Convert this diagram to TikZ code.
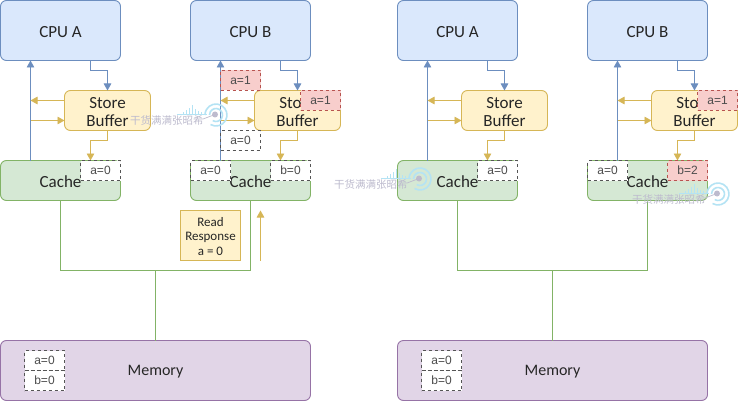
\documentclass[tikz,border=0pt]{standalone}
\usepackage{fontspec}
\setmainfont{Liberation Sans}
\newfontfamily\handfont{Carlito}
\newfontfamily\cjkfont{Noto Sans CJK SC}
\usetikzlibrary{arrows.meta,calc}
\definecolor{bluefill}{HTML}{DAE8FC}\definecolor{blueline}{HTML}{6C8EBF}
\definecolor{yellowfill}{HTML}{FFF2CC}\definecolor{yellowline}{HTML}{D6B656}
\definecolor{greenfill}{HTML}{D5E8D4}\definecolor{greenline}{HTML}{82B366}
\definecolor{purplefill}{HTML}{E1D5E7}\definecolor{purpleline}{HTML}{9673A6}
\definecolor{redfill}{HTML}{F8CECC}\definecolor{redline}{HTML}{B85450}
\definecolor{dashline}{HTML}{555555}
\definecolor{markcyan}{HTML}{B4E3F4}\definecolor{marktext}{HTML}{BDBBCE}
\tikzset{
  x=1pt,y=-1pt,
  every node/.style={inner sep=0pt,outer sep=0pt,align=center,text=black!85},
  boxtext/.style={font=\handfont\fontsize{17}{18.5}\selectfont,align=center,yshift=-1.5pt},
  txt/.style={label={[boxtext]center:#1}},
  boxbase/.style={draw,rounded corners=6pt,line width=.9pt},
  cpu/.style={boxbase,fill=bluefill,draw=blueline,minimum width=120pt,minimum height=60pt},
  storebox/.style={boxbase,fill=yellowfill,draw=yellowline,minimum width=86pt,minimum height=40pt},
  cachebox/.style={boxbase,fill=greenfill,draw=greenline,minimum width=120pt,minimum height=40pt},
  membox/.style={boxbase,fill=purplefill,draw=purpleline,minimum width=310pt,minimum height=60pt},
  cell/.style={draw=dashline,dash pattern=on 3pt off 3pt,line width=.7pt,fill=white,minimum width=40pt,minimum height=20pt,font=\fontsize{12}{14}\selectfont,text=black!70},
  redcell/.style={cell,fill=redfill,draw=redline},
  blueflow/.style={draw=blueline,line width=.9pt,-{Triangle[width=7.5pt,length=7pt]}},
  yellowflow/.style={draw=yellowline,line width=.9pt,-{Triangle[width=7.5pt,length=7pt]}},
  busline/.style={draw=greenline,line width=.9pt},
  wmtext/.style={text=marktext,font=\cjkfont\fontsize{10.5}{12}\selectfont},
}
% faint stamp: signal bars, rings and caption
\newcommand{\stamp}[3]{%
  \begin{scope}[shift={(#1,#2)}]
    \draw[markcyan,line width=1.6pt] (86,-6) ++(-120:11pt) arc[start angle=-120,end angle=180,radius=11pt];
    \draw[markcyan,line width=1.6pt] (86,-6) ++(-120:6.5pt) arc[start angle=-120,end angle=180,radius=6.5pt];
    \fill[marktext] (85,-6.5) circle (3pt);
    \draw[marktext,line width=.7pt] (85,-6.5) -- (73,-2);
    \draw[markcyan,line width=.8pt] (47,-7) -- (77,-7);
    \foreach \xx/\hh in {53/2,56/4,59/6,62/9,65/5,68/3,71/2} \draw[markcyan,line width=.8pt] (\xx,-7) -- (\xx,-7-\hh);
    \node[wmtext,anchor=west] (#3) at (0,0) {干货满满张昭希};
  \end{scope}}
\begin{document}
\begin{tikzpicture}
\useasboundingbox (0,0) rectangle (738,401);
\fill[white] (0,0) rectangle (738,401);
\foreach \off/\pre in {0/l,397/r}{
\begin{scope}[shift={(\off,0)}]
  % processors, store buffers and caches
  \node[cpu,txt={CPU A}] (\pre cpua) at (60.5,30.5) {};
  \node[cpu,txt={CPU B}] (\pre cpub) at (250.5,30.5) {};
  \node[storebox,txt={Store\\Buffer}] (\pre sa) at (107.5,110.5) {};
  \node[storebox,txt={Store\\Buffer}] (\pre sb) at (297.5,110.5) {};
  \node[cachebox,txt={Cache}] (\pre ca) at (60.5,180.5) {};
  \node[cachebox,txt={Cache}] (\pre cb) at (250.5,180.5) {};
  \node[membox,label={[boxtext,font=\handfont\fontsize{16}{18}\selectfont]center:Memory}] (\pre mem) at (155.5,370.5) {};
  \node[cell] (\pre ma) at (44.5,360.5) {a=0};
  \node[cell] (\pre mb) at (44.5,380.5) {b=0};
  % junctions beside the caches and the bus
  \coordinate (\pre ja) at (30.5,160.5);
  \coordinate (\pre jat) at (30.5,60.5);
  \coordinate (\pre jb) at (220.5,160.5);
  \coordinate (\pre jbt) at (220.5,60.5);
  \coordinate (\pre la1) at (30.5,100.5);
  \coordinate (\pre la2) at (30.5,120.5);
  \coordinate (\pre lb1) at (220.5,100.5);
  \coordinate (\pre lb2) at (220.5,120.5);
  \coordinate (\pre bus) at (155.5,270.5);
  \draw[blueflow] (\pre ja) -- (\pre jat);
  \draw[blueflow] (\pre jb) -- (\pre jbt);
  \draw[blueflow] (90.5,60.5) |- (107.5,70.5) -- (\pre sa.north);
  \draw[blueflow] (280.5,60.5) |- (297.5,70.5) -- (\pre sb.north);
  \draw[yellowflow] (64.5,100.5) -- (\pre la1);
  \draw[yellowflow] (\pre la2) -- (64.5,120.5);
  \draw[yellowflow] (254.5,100.5) -- (\pre lb1);
  \draw[yellowflow] (\pre lb2) -- (254.5,120.5);
  \draw[yellowflow] (\pre sa.south) |- (90.5,140.5) -- (90.5,160.5);
  \draw[yellowflow] (\pre sb.south) |- (280.5,140.5) -- (280.5,160.5);
  \draw[busline] (\pre ca.south) |- (\pre bus) -| (\pre cb.south);
  \draw[busline] (\pre bus) -- (\pre mem.north);
  \node[cell] (\pre cella) at (100.5,170.5) {a=0};
  \node[cell] (\pre cellb) at (210.5,170.5) {a=0};
  \node[redcell] (\pre storea) at (320.5,100.5) {a=1};
\end{scope}}
% per-side differences in cache contents
\node[cell] (lcellc) at (290.5,170.5) {b=0};
\node[redcell] (rcellc) at (687.5,170.5) {b=2};
% invalidated copies and the read response on the first panel
\node[redcell] (invnew) at (240.5,80.5) {a=1};
\node[cell] (invold) at (240.5,140.5) {a=0};
\node[draw=yellowline,fill=yellowfill,line width=.9pt,minimum width=60pt,minimum height=50pt,label={[boxtext,yshift=.5pt,font=\handfont\fontsize{13}{14.5}\selectfont]center:Read\\Response\\a = 0}] (resp) at (210.5,235.5) {};
\coordinate (rsa) at (260.5,260.5);
\coordinate (rsb) at (260.5,210.5);
\draw[yellowflow] (rsa) -- (rsb);
\stamp{130}{121}{wma}
\stamp{334}{185}{wmb}
\stamp{632}{200}{wmc}
\end{tikzpicture}
\end{document}
